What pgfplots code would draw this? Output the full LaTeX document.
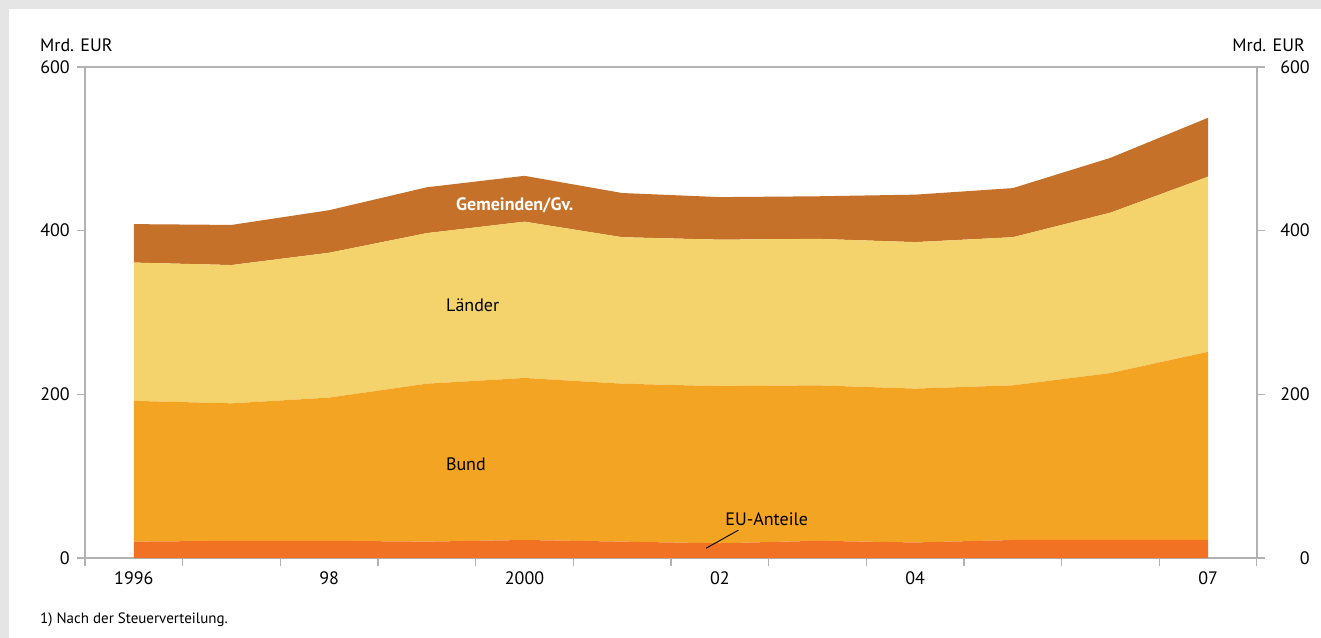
\documentclass[border=0pt]{standalone}
\usepackage{pgfplots}
\pgfplotsset{compat=1.18}
\usepackage{fontspec}
\setmainfont{PT Sans}

\definecolor{euc}{RGB}{240,114,34}
\definecolor{bundc}{RGB}{244,164,35}
\definecolor{laenderc}{RGB}{245,211,108}
\definecolor{gemc}{RGB}{197,113,42}
\definecolor{framec}{RGB}{229,229,229}
\definecolor{axisc}{RGB}{178,178,178}

\newcommand{\lbl}{\fontsize{18bp}{21bp}\selectfont}

\begin{document}
\begin{tikzpicture}
% grauer Rahmen
\fill[framec] (-85bp,-80bp) rectangle (1236bp,558bp);
\fill[white] (-76bp,-80bp) rectangle (1236bp,549bp);

\begin{axis}[
  width=1172bp, height=491bp, scale only axis,
  xmin=1995.5, xmax=2007.5, ymin=0, ymax=600,
  stack plots=y,
  axis line style={axisc, line width=1.2bp},
  tick style={axisc, line width=1.2bp},
  tick align=outside,
  major tick length=8bp,
  xtick={1995.5,1996.5,...,2007.5}, xticklabels={},
  xtick pos=bottom,
  extra x ticks={1996,1998,2000,2002,2004,2007},
  extra x tick labels={1996,98,2000,02,04,07},
  extra x tick style={major tick length=0pt},
  ytick={0,200,400,600}, ytick pos=left,
  /pgf/number format/assume math mode=true,
  tick label style={font=\lbl, inner sep=0pt},
  yticklabel style={anchor=east, xshift=-7bp},
  xticklabel style={anchor=north, yshift=-13bp},
  clip=false,
]
\addplot[draw=none, fill=euc] coordinates {
 (1996,20) (1997,21) (1998,21) (1999,20) (2000,22) (2001,20)
 (2002,18) (2003,21) (2004,19) (2005,22) (2006,22) (2007,22)} \closedcycle;
\addplot[draw=none, fill=bundc] coordinates {
 (1996,172) (1997,168) (1998,175) (1999,193) (2000,198) (2001,193)
 (2002,192) (2003,190) (2004,188) (2005,189) (2006,204) (2007,230)} \closedcycle;
\addplot[draw=none, fill=laenderc] coordinates {
 (1996,169) (1997,169) (1998,177) (1999,184) (2000,191) (2001,179)
 (2002,179) (2003,179) (2004,179) (2005,181) (2006,196) (2007,214)} \closedcycle;
\addplot[draw=none, fill=gemc] coordinates {
 (1996,47) (1997,49) (1998,52) (1999,56) (2000,56) (2001,54)
 (2002,52) (2003,52) (2004,58) (2005,60) (2006,67) (2007,72)} \closedcycle;

\node[font=\lbl, anchor=west, inner sep=0pt] at ([xshift=-45bp, yshift=22bp]rel axis cs:0,1) {Mrd. EUR};
\node[font=\lbl, anchor=east, inner sep=0pt] at ([xshift=48bp, yshift=22bp]rel axis cs:1,1) {Mrd. EUR};
\node[font=\fontsize{15bp}{17bp}\selectfont, anchor=west, inner sep=0pt] at ([xshift=-45bp, yshift=-62bp]rel axis cs:0,0) {1) Nach der Steuerverteilung.};
\end{axis}

\begin{axis}[
  width=1172bp, height=491bp, scale only axis,
  xmin=1995.5, xmax=2007.5, ymin=0, ymax=600,
  axis x line=none, axis y line*=right,
  axis line style={axisc, line width=1.2bp},
  tick style={axisc, line width=1.2bp},
  tick align=outside,
  major tick length=8bp,
  ytick={0,200,400,600},
  /pgf/number format/assume math mode=true,
  tick label style={font=\lbl, inner sep=0pt},
  yticklabel style={anchor=east, xshift=45bp},
  clip=false,
]
\addplot[draw=none] coordinates {(1996,0)};
\node[white, font=\lbl\bfseries] at (axis cs:1999.9,431) {Gemeinden/Gv.};
\node[font=\lbl] at (axis cs:1999.47,309) {Länder};
\node[font=\lbl] at (axis cs:1999.4,114) {Bund};
\node[font=\lbl] at (axis cs:2002.48,48) {EU-Anteile};
\draw[black, line width=0.9bp] (axis cs:2001.86,12) -- (axis cs:2002.19,34);
\end{axis}
\end{tikzpicture}
\end{document}
